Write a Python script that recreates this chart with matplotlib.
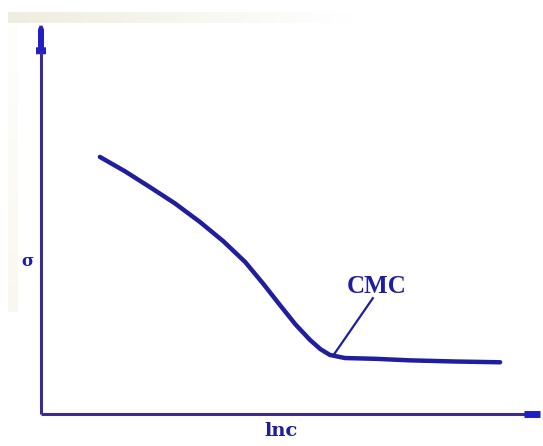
import matplotlib
matplotlib.use("Agg")
import matplotlib.pyplot as plt
import numpy as np

# Data (abstract units: x = ln c, y = surface tension sigma)
lnc = [11.8, 16.8, 21.8, 26.8, 31.9, 36.5, 40.9, 44.5, 47.9, 51.0, 53.9, 56.0, 57.9, 60.9, 67.0, 73.9, 83.0, 92.0]
sigma = [66.6, 62.9, 58.8, 54.6, 49.7, 44.8, 39.4, 33.8, 28.2, 23.2, 19.2, 16.8, 15.3, 14.5, 14.3, 13.9, 13.6, 13.4]
cmc_point = (58.8, 15.6)
cmc_text = (67.2, 31.3)
x_label = "lnc"
y_label = "σ"
cmc_label = "CMC"

W, H = 543, 446
fig = plt.figure(figsize=(W / 100, H / 100), dpi=100)
fig.patch.set_facecolor("white")

# faint cream scan band at top and left
band = fig.add_axes([8 / W, 1 - 23 / H, 345 / W, 11 / H])
band.imshow(np.linspace(1, 0, 256)[None, :], aspect="auto",
            cmap=matplotlib.colors.LinearSegmentedColormap.from_list("c", ["#ffffff", "#efedde"]),
            vmin=0, vmax=1)
band.axis("off")
side = fig.add_axes([8 / W, 0.3, 9 / W, 1 - 23 / H - 0.3])
side.imshow(np.linspace(0, 1, 64)[:, None], aspect="auto",
            cmap=matplotlib.colors.LinearSegmentedColormap.from_list("c2", ["#fefefb", "#f9f8f0"]),
            vmin=0, vmax=1)
side.axis("off")

x0, y0 = 41, 414
ax = fig.add_axes([x0 / W, (H - y0) / H, (540 - x0) / W, (y0 - 28) / H])
ax.set_xlim(0, 100)
ax.set_ylim(0, 100)
ax.axis("off")
ax.patch.set_alpha(0)

axis_color = "#3b2d8c"
head_color = "#1f1fc8"
curve_color = "#1e1e9e"

# axes lines
ax.plot([0, 97], [0, 0], color=axis_color, lw=2.2, solid_capstyle="butt", clip_on=False)
ax.plot([0, 0], [0, 94], color=axis_color, lw=2.2, solid_capstyle="butt", clip_on=False)
# arrow heads (small blocky)
ax.plot([96.8, 100], [0, 0], color=head_color, lw=5, solid_capstyle="butt", clip_on=False)
ax.fill([-1.0, 1.0, 1.0, 0.6, 0.6, 0.3, -0.3, -0.6, -0.6, -1.0],
        [93.2, 93.2, 95.0, 95.0, 99.6, 100.6, 100.6, 99.6, 95.0, 95.0],
        color=head_color, lw=0, clip_on=False)

# curve
ax.plot(lnc, sigma, color=curve_color, lw=3.2, solid_capstyle="round", solid_joinstyle="round")

# CMC marker line & label
ax.plot([cmc_text[0] - 0.7, cmc_point[0]], [cmc_text[1] - 1.3, cmc_point[1]], color=curve_color, lw=1.6)
ax.text(cmc_text[0], cmc_text[1], cmc_label, ha="center", va="baseline", fontsize=18,
        fontweight="bold", family="Liberation Serif", color=curve_color)

ax.text(48.1, -2.0, x_label, ha="center", va="top", fontsize=14, fontweight="bold",
        family="DejaVu Serif", color=curve_color)
ax.text(-1.6, 39.5, y_label, ha="right", va="center", fontsize=12, fontweight="bold",
        family="DejaVu Serif", color=curve_color)

fig.savefig("out.png", dpi=100, facecolor="white")
